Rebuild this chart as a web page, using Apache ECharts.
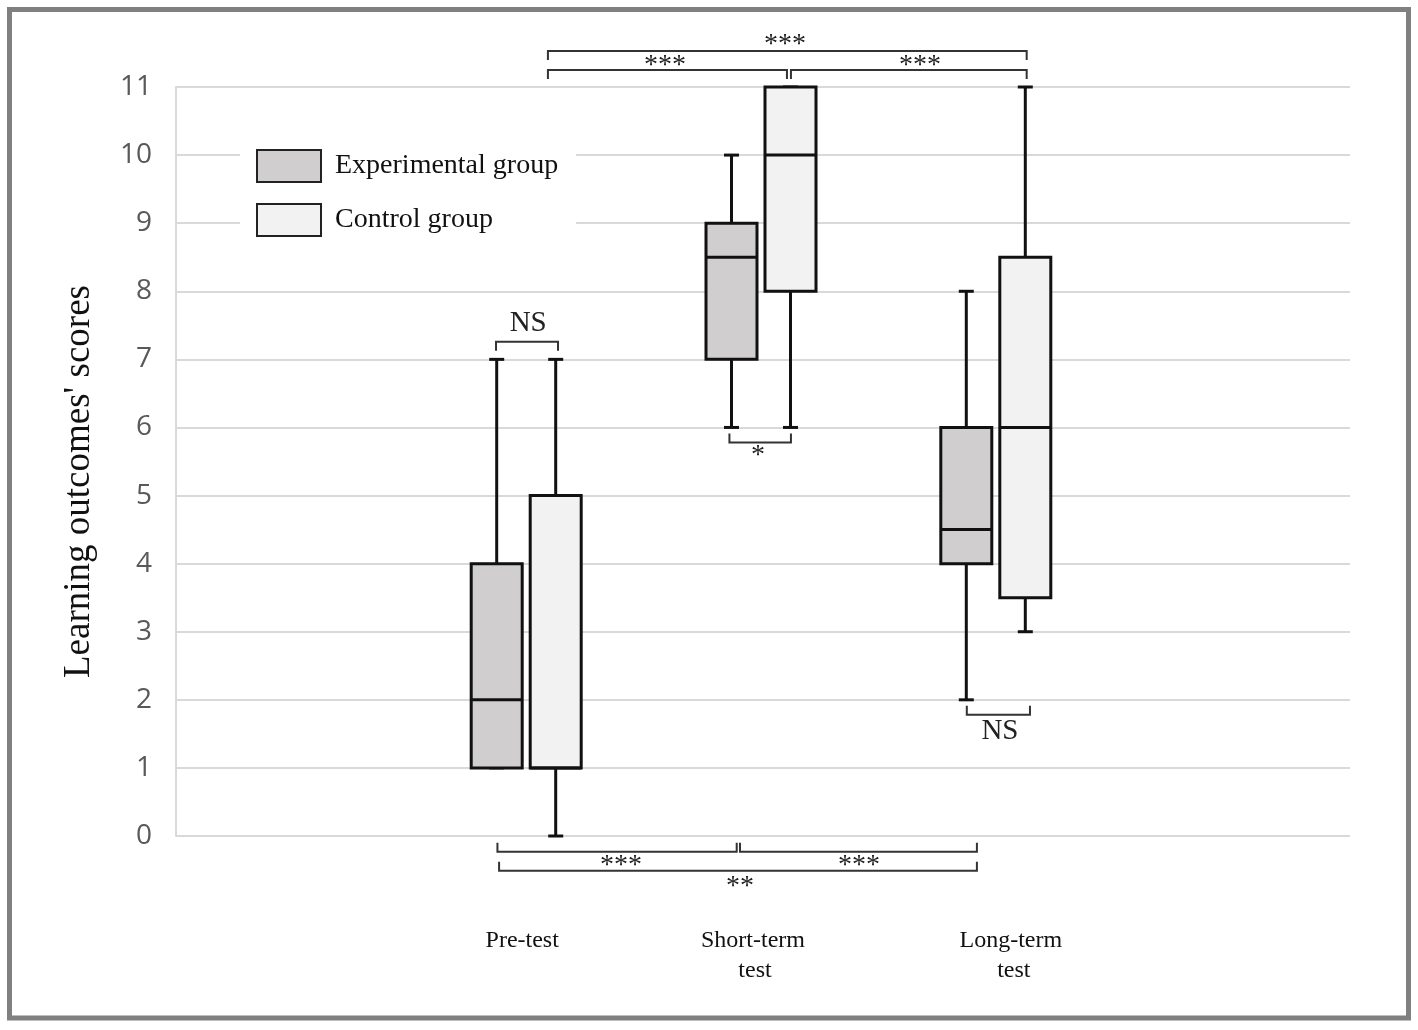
<!DOCTYPE html>
<html>
<head>
<meta charset="utf-8">
<script src="https://cdn.jsdelivr.net/npm/echarts@6/dist/echarts.min.js"></script>
<style>
html, body { margin: 0; background: #fff; }
#chart { width: 1418px; height: 1030px; }
</style>
</head>
<body>
<div id="chart"></div>
<script>
// categories (first and last are empty slots, as in the original layout)
const categories = ['', 'Pre-test', 'Short-term\ntest', 'Long-term\ntest', ''];
const seriesNames = ['Experimental group', 'Control group'];

// [category index, min, Q1, median, Q3, max]
const experimental = [
    [1, 1, 1, 2, 4, 7],
    [2, 6, 7, 8.5, 9, 10],
    [3, 2, 4, 4.5, 6, 8]
];
const control = [
    [1, 0, 1, 1, 5, 7],
    [2, 6, 8, 10, 11, 11],
    [3, 3, 3.5, 6, 8.5, 11]
];

// significance brackets: [x start, x end, y of the bar, tick direction (1 down, -1 up)]
const brackets = [
    [1.084, 3.123, 11.53, 1],
    [1.084, 2.102, 11.25, 1],
    [2.119, 3.123, 11.25, 1],
    [0.863, 1.127, 7.26, 1],
    [1.857, 2.119, 5.78, -1],
    [2.868, 3.137, 1.78, -1],
    [0.869, 1.888, -0.23, -1],
    [1.902, 2.911, -0.23, -1],
    [0.876, 2.911, -0.51, -1]
];
const markTexts = ['***', '***', '***', 'NS', '*', 'NS', '***', '***', '**'];
const markPositions = [
    [2.094, 11.68], [1.583, 11.37], [2.669, 11.37],
    [1.0, 7.53], [1.979, 5.64], [3.009, 1.53],
    [1.395, -0.38], [2.409, -0.38], [1.902, -0.68]
];

const BOX_W = 51;
const CAP_W = 15;
const TICK = 9;
const SERIF = 'Liberation Serif';

function boxRenderer(offset, fill) {
    return function (params, api) {
        const c = api.coord([api.value(0), 0])[0] + offset;
        const y = [1, 2, 3, 4, 5].map(function (d) {
            return api.coord([api.value(0), api.value(d)])[1];
        });
        const line = { stroke: '#111', lineWidth: 3 };
        return {
            type: 'group',
            children: [
                { type: 'line', shape: { x1: c, y1: y[0], x2: c, y2: y[1] }, style: line },
                { type: 'line', shape: { x1: c, y1: y[3], x2: c, y2: y[4] }, style: line },
                { type: 'line', shape: { x1: c - CAP_W / 2, y1: y[0], x2: c + CAP_W / 2, y2: y[0] }, style: line },
                { type: 'line', shape: { x1: c - CAP_W / 2, y1: y[4], x2: c + CAP_W / 2, y2: y[4] }, style: line },
                {
                    type: 'rect',
                    shape: { x: c - BOX_W / 2, y: y[3], width: BOX_W, height: y[1] - y[3] },
                    style: { fill: fill, stroke: '#111', lineWidth: 3 }
                },
                { type: 'line', shape: { x1: c - BOX_W / 2, y1: y[2], x2: c + BOX_W / 2, y2: y[2] }, style: line }
            ]
        };
    };
}

function bracketRenderer(params, api) {
    const b = brackets[params.dataIndex];
    const p1 = api.coord([b[0], b[2]]);
    const p2 = api.coord([b[1], b[2]]);
    const t = b[3] * TICK;
    return {
        type: 'polyline',
        shape: { points: [[p1[0], p1[1] + t], p1, p2, [p2[0], p2[1] + t]] },
        style: { stroke: '#333', lineWidth: 2, fill: null }
    };
}

function markRenderer(params, api) {
    const text = markTexts[params.dataIndex];
    const p = api.coord([api.value(0), api.value(1)]);
    const star = text[0] === '*';
    return {
        type: 'text',
        x: p[0],
        y: p[1] + (star ? 4 : 0),
        style: {
            text: text,
            fill: '#222',
            font: (star ? 28 : 29) + 'px "' + SERIF + '"',
            align: 'center',
            verticalAlign: 'middle'
        }
    };
}

// small horizontal nudges so the category labels sit where the original has them
const labelStyle = { fontFamily: SERIF, fontSize: 24, lineHeight: 30, color: '#111' };
const labelRich = {
    a: Object.assign({ padding: [0, 12, 0, 0] }, labelStyle),
    b: Object.assign({ padding: [0, 20, 0, 0] }, labelStyle),
    b2: Object.assign({ padding: [0, 16, 0, 0] }, labelStyle),
    c: Object.assign({ padding: [0, 0, 0, 26] }, labelStyle),
    c2: Object.assign({ padding: [0, 0, 0, 32] }, labelStyle)
};
const labelKeys = [['a'], ['a'], ['b', 'b2'], ['c', 'c2'], ['a']];

const chart = echarts.init(document.getElementById('chart'));

chart.setOption({
    animation: false,
    backgroundColor: '#fff',
    textStyle: { fontFamily: SERIF },
    grid: { left: 176, right: 68, top: 87, bottom: 194 },
    legend: {
        orient: 'vertical',
        left: 240,
        top: 136,
        padding: [13, 18, 13, 16],
        backgroundColor: '#fff',
        itemWidth: 64,
        itemHeight: 32,
        itemGap: 20,
        icon: 'rect',
        selectedMode: false,
        itemStyle: { borderColor: '#222', borderWidth: 2 },
        textStyle: { fontFamily: SERIF, fontSize: 28, color: '#111', padding: [0, 0, 0, 9] },
        data: seriesNames
    },
    xAxis: [
        {
            type: 'category',
            data: categories,
            axisLine: { show: false },
            axisTick: { show: false },
            splitLine: { show: false },
            axisLabel: {
                interval: 0,
                margin: 90,
                fontFamily: SERIF,
                fontSize: 24,
                lineHeight: 30,
                color: '#111',
                rich: labelRich,
                formatter: function (value, index) {
                    if (!value) return '';
                    const keys = labelKeys[index];
                    return value.split('\n').map(function (line, i) {
                        return '{' + (keys[i] || keys[0]) + '|' + line + '}';
                    }).join('\n');
                }
            }
        },
        { type: 'value', min: -0.5, max: 4.5, show: false }
    ],
    yAxis: {
        type: 'value',
        min: 0,
        max: 11,
        interval: 1,
        name: "Learning outcomes' scores",
        nameLocation: 'middle',
        nameGap: 78,
        nameTextStyle: {
            fontFamily: SERIF,
            fontSize: 37,
            color: '#111',
            padding: [0, 40, 0, 0]
        },
        axisLine: { show: true, onZero: false, lineStyle: { color: '#d9d9d9', width: 2 } },
        axisTick: { show: false },
        splitLine: { lineStyle: { color: '#d9d9d9', width: 2 } },
        axisLabel: { fontFamily: 'Open Sans', fontSize: 28, color: '#595959', margin: 24 }
    },
    graphic: [{
        type: 'rect',
        shape: { x: 9.5, y: 9.5, width: 1399, height: 1008.5 },
        style: { fill: null, stroke: '#808080', lineWidth: 5 },
        z: 100
    }],
    series: [
        {
            type: 'custom',
            name: seriesNames[0],
            renderItem: boxRenderer(-31.5, '#d0cece'),
            itemStyle: { color: '#d0cece', borderColor: '#222', borderWidth: 2 },
            encode: { x: 0, y: [1, 2, 3, 4, 5] },
            data: experimental,
            z: 3
        },
        {
            type: 'custom',
            name: seriesNames[1],
            renderItem: boxRenderer(27.5, '#f2f2f2'),
            itemStyle: { color: '#f2f2f2', borderColor: '#222', borderWidth: 2 },
            encode: { x: 0, y: [1, 2, 3, 4, 5] },
            data: control,
            z: 3
        },
        {
            type: 'custom',
            xAxisIndex: 1,
            silent: true,
            renderItem: bracketRenderer,
            encode: { x: [0, 1], y: 2 },
            data: brackets,
            z: 4
        },
        {
            type: 'custom',
            xAxisIndex: 1,
            silent: true,
            renderItem: markRenderer,
            encode: { x: 0, y: 1 },
            data: markPositions,
            z: 4
        }
    ]
});
</script>
</body>
</html>
